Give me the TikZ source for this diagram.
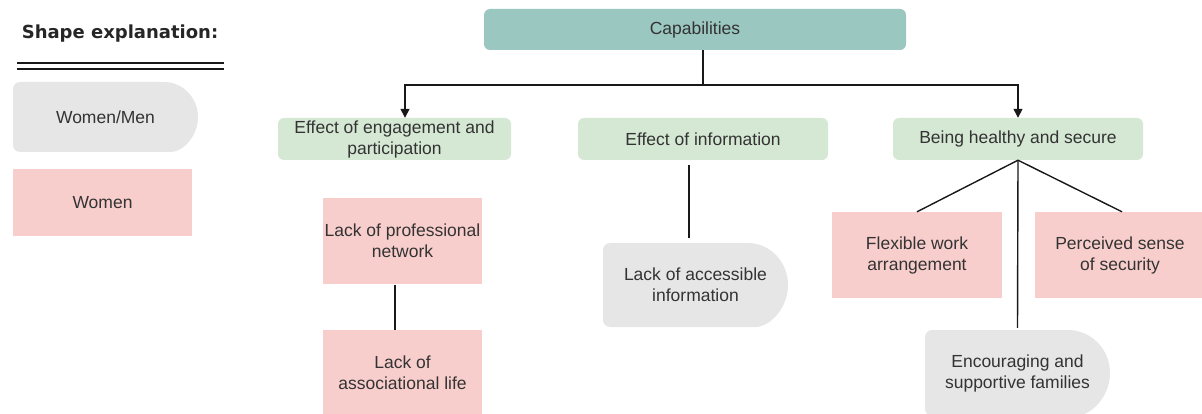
\documentclass[tikz,border=0pt]{standalone}
\usepackage{fontspec}
\setmainfont{Liberation Sans}
\newfontfamily\legendfont{DejaVu Sans}
\usetikzlibrary{arrows.meta}
\definecolor{tealbox}{HTML}{9AC7BF}
\definecolor{greenbox}{HTML}{D5E8D4}
\definecolor{pinkbox}{HTML}{F8CECC}
\definecolor{graybox}{HTML}{E6E6E6}
\definecolor{txtcol}{HTML}{333333}
% x1, xs (start of curve), ytop, ybot, rx, ry
\newcommand\delayfill[6]{%
  \fill[graybox, rounded corners=7pt] (#2,#3) -- (#1,#3) -- (#1,#4) -- (#2,#4)
    [sharp corners] arc[start angle=-90, end angle=90, x radius=#5, y radius=#6] -- cycle;}
\begin{document}
\begin{tikzpicture}[x=1pt,y=1pt,
  base/.style={inner sep=0pt, align=center, text=txtcol, font=\fontsize{17.5}{21}\selectfont},
  capstyle/.style={base, fill=tealbox, rounded corners=6pt},
  greenstyle/.style={base, fill=greenbox, rounded corners=6pt},
  pinkstyle/.style={base, fill=pinkbox},
  conn/.style={draw=black!90, line width=1.4pt},
  arr/.style={conn, -{Triangle[length=9pt,width=9pt]}}
]
\useasboundingbox (0,0) rectangle (1202,-414);
\clip (0,0) rectangle (1202,-414);

% legend
\node[font=\legendfont\bfseries\fontsize{18}{22}\selectfont, text=black!85, inner sep=0pt] (title) at (120,-34) {Shape explanation:};
\coordinate (dl1) at (17,-63); \coordinate (dr1) at (224,-63);
\coordinate (dl2) at (17,-69); \coordinate (dr2) at (224,-69);
\draw[conn, line width=1.2pt] (dl1) -- (dr1);
\draw[conn, line width=1.2pt] (dl2) -- (dr2);
\delayfill{13}{164}{-82}{-152}{34}{35}
\node[base, minimum width=185, minimum height=70] (lwm) at (105.5,-117) {Women/Men};
\node[pinkstyle, minimum width=179, minimum height=67] (lw) at (102.5,-202.5) {Women};

% main tree
\node[capstyle, minimum width=422, minimum height=41] (cap) at (695,-29.5) {Capabilities};
\node[greenstyle, minimum width=233, minimum height=42] (eng) at (394.5,-139) {Effect of engagement and\\participation};
\node[greenstyle, minimum width=250, minimum height=42] (inf) at (703,-139) {Effect of information};
\node[greenstyle, minimum width=250, minimum height=42] (hea) at (1018,-139) {Being healthy and secure};

\node[pinkstyle, minimum width=159, minimum height=86] (prof) at (402.5,-241) {Lack of professional\\network};
\node[pinkstyle, minimum width=159, minimum height=86] (assoc) at (402.5,-373) {Lack of\\associational life};

\delayfill{603}{748}{-243}{-327}{40}{42}
\node[base, minimum width=185, minimum height=84] (acc) at (695.5,-285) {Lack of accessible\\information};

\node[pinkstyle, minimum width=170, minimum height=86] (flex) at (917,-255) {Flexible work\\arrangement};
\node[pinkstyle, minimum width=170, minimum height=86] (perc) at (1120,-255) {Perceived sense\\of security};

\delayfill{925}{1068}{-330}{-416}{42}{43}
\node[base, minimum width=185, minimum height=86] (enc) at (1017.5,-373) {Encouraging and\\supportive families};

% connectors
\coordinate (j) at (703,-85);
\coordinate (ea) at (405,0);
\draw[conn] (cap.south -| j) -- (j);
\draw[arr] (j) -| (eng.north -| ea);
\draw[arr] (j) -| (hea.north);

\coordinate (px) at (395,0);
\draw[conn] ([yshift=-1pt]prof.south -| px) -- (assoc.north -| px);

\coordinate (ix) at (689,0);
\draw[conn] ([yshift=-5pt]inf.south -| ix) -- ([yshift=5pt]acc.north -| ix);

\draw[conn] (hea.south) -- (flex.north);
\draw[conn] (hea.south) -- ([xshift=2pt]perc.north);
\draw[conn] (hea.south) -- ([yshift=2pt]enc.north);
\end{tikzpicture}
\end{document}
